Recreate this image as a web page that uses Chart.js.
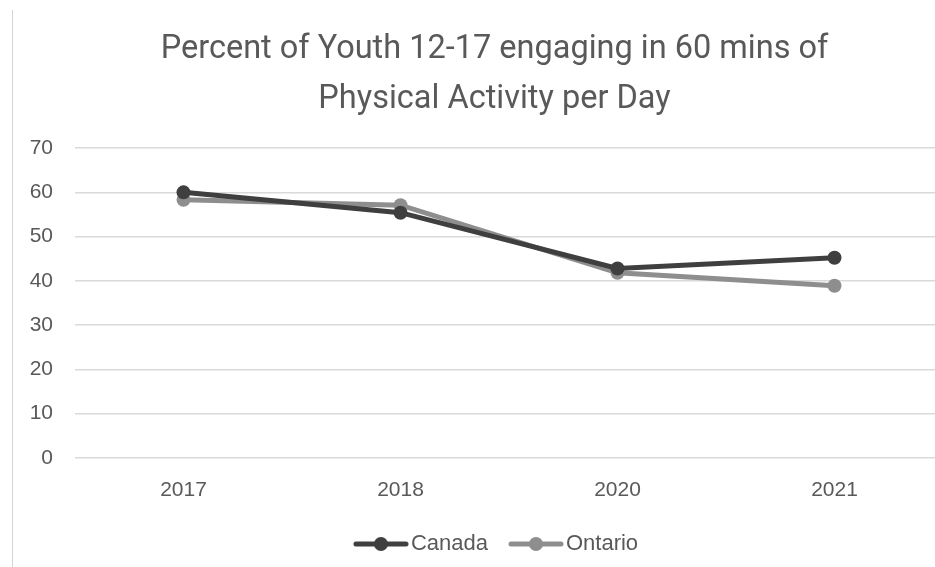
<!DOCTYPE html>
<html>
<head>
<meta charset="utf-8">
<script src="https://cdn.jsdelivr.net/npm/chart.js@4.4.1/dist/chart.umd.min.js"></script>
<style>
    html, body { margin: 0; padding: 0; background: #ffffff; overflow: hidden; }
    #wrap { position: relative; width: 935px; height: 567px; overflow: hidden; }
    #wrap::before {
        content: '';
        position: absolute;
        left: 12px; top: 10px; bottom: 0;
        border-left: 1px solid #d4d4d4;
    }
    #activityChart { position: absolute; left: 12px; top: 0; }
</style>
</head>
<body>
<div id="wrap"><canvas id="activityChart" width="965" height="565"></canvas></div>
<script>
// data
const years = ['2017', '2018', '2020', '2021'];
const canadaValues = [60, 55.4, 42.8, 45.2];
const ontarioValues = [58.3, 57.1, 41.8, 38.9];
const yTicks = [0, 10, 20, 30, 40, 50, 60, 70];

const CANADA_COLOR = '#3f3f3f';
const ONTARIO_COLOR = '#8e8e8e';
const TEXT_COLOR = '#595959';
const RIGHT_MARGIN = 34;

// legend marker: thick line with a dot in the middle,
// drawn in the right part of the image so it sits close to its text
function legendMarker(color) {
    const c = document.createElement('canvas');
    c.width = 75;
    c.height = 16;
    const g = c.getContext('2d');
    g.strokeStyle = color;
    g.lineWidth = 5;
    g.lineCap = 'round';
    g.beginPath();
    g.moveTo(22, 8);
    g.lineTo(72, 8);
    g.stroke();
    g.fillStyle = color;
    g.beginPath();
    g.arc(47, 8, 7, 0, Math.PI * 2);
    g.fill();
    return c;
}

const markers = [legendMarker(CANADA_COLOR), legendMarker(ONTARIO_COLOR)];

// title and legend are centred on the whole canvas, not only the padded area
const wideHeader = {
    id: 'wideHeader',
    afterLayout(chart) {
        chart.titleBlock.right += RIGHT_MARGIN;
        chart.legend.right += RIGHT_MARGIN;
        chart.legend.left -= 8;
    }
};

const ctx = document.getElementById('activityChart');

new Chart(ctx, {
    type: 'line',

    data: {
        labels: years,
        datasets: [
            {
                label: 'Canada',
                data: canadaValues,
                borderColor: CANADA_COLOR,
                backgroundColor: CANADA_COLOR,
                borderWidth: 5,
                pointRadius: 7,
                pointBackgroundColor: CANADA_COLOR,
                pointBorderWidth: 0,
                tension: 0
            },
            {
                label: 'Ontario',
                data: ontarioValues,
                borderColor: ONTARIO_COLOR,
                backgroundColor: ONTARIO_COLOR,
                borderWidth: 5,
                pointRadius: 7,
                pointBackgroundColor: ONTARIO_COLOR,
                pointBorderWidth: 0,
                tension: 0
            }
        ]
    },

    plugins: [wideHeader],

    options: {
        responsive: false,
        animation: false,
        devicePixelRatio: 1,

        layout: {
            padding: { left: 0, right: RIGHT_MARGIN, top: 25, bottom: 0 }
        },

        plugins: {
            title: {
                display: true,
                text: ['Percent of Youth 12-17 engaging in 60 mins of', 'Physical Activity per Day'],
                color: TEXT_COLOR,
                font: { family: 'Roboto, sans-serif', size: 32.5, weight: 'normal', lineHeight: 1.54 },
                padding: { top: 0, bottom: 23 }
            },
            legend: {
                position: 'bottom',
                labels: {
                    usePointStyle: true,
                    pointStyleWidth: 57,
                    color: TEXT_COLOR,
                    font: { family: 'Liberation Sans, Arial, sans-serif', size: 22 },
                    padding: 10,
                    generateLabels(chart) {
                        return chart.data.datasets.map((ds, i) => ({
                            text: ds.label,
                            pointStyle: markers[i],
                            fontColor: TEXT_COLOR,
                            lineWidth: 0,
                            strokeStyle: 'transparent',
                            fillStyle: ds.borderColor,
                            datasetIndex: i,
                            hidden: false
                        }));
                    }
                }
            },
            tooltip: { enabled: false }
        },

        scales: {
            y: {
                min: 0,
                max: 70,
                afterBuildTicks(axis) {
                    axis.ticks = yTicks.map(v => ({ value: v }));
                },
                afterFit(axis) {
                    axis.width = 63;
                },
                border: { display: false },
                grid: { color: '#d9d9d9', lineWidth: 1.5, drawTicks: false },
                ticks: {
                    color: TEXT_COLOR,
                    padding: 22,
                    font: { family: 'Liberation Sans, Arial, sans-serif', size: 21 }
                }
            },
            x: {
                offset: true,
                border: { display: false },
                grid: { display: false, drawTicks: false },
                ticks: {
                    color: TEXT_COLOR,
                    padding: 20,
                    font: { family: 'Liberation Sans, Arial, sans-serif', size: 21 }
                }
            }
        }
    }
});
</script>
</body>
</html>
